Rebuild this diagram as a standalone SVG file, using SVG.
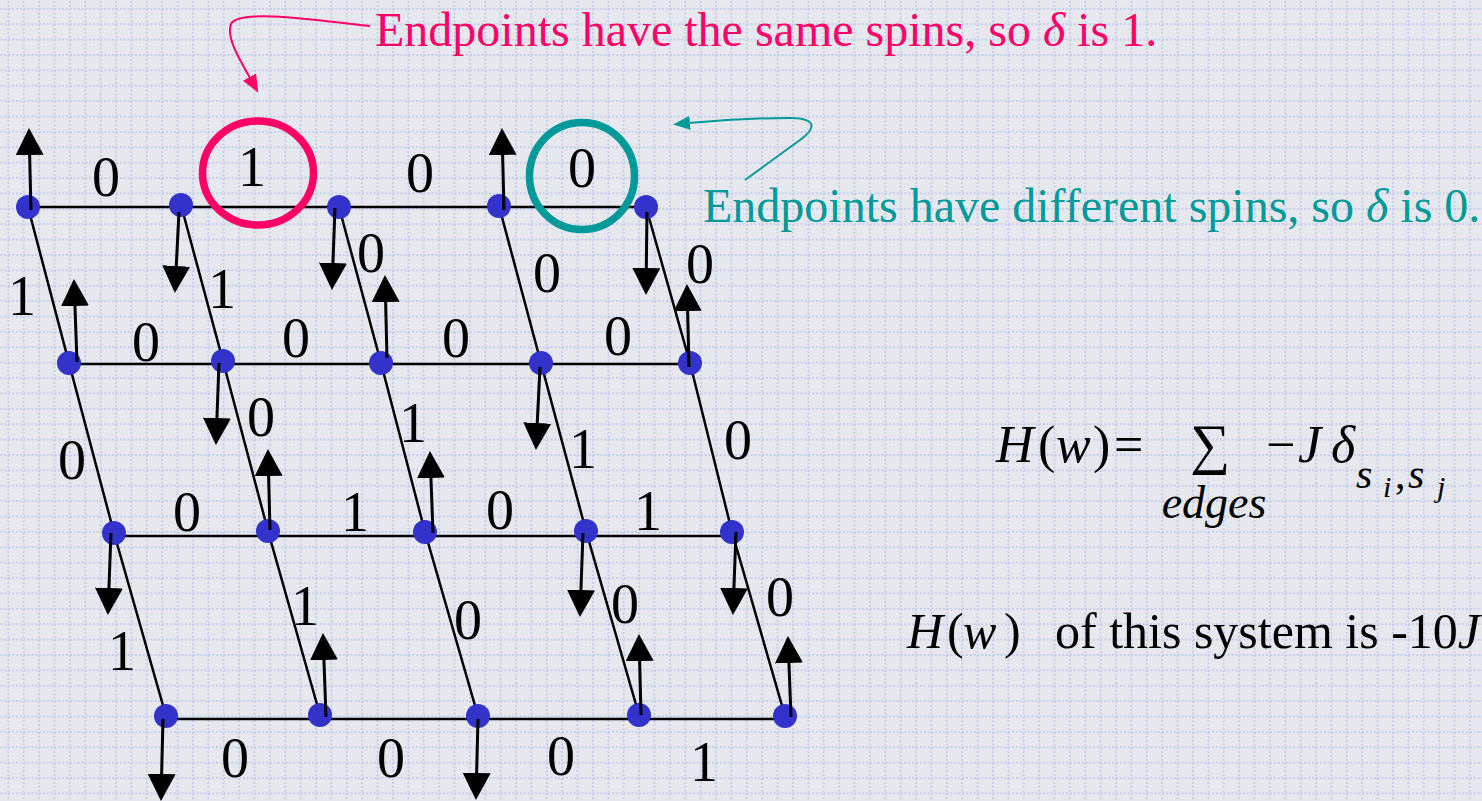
<svg xmlns="http://www.w3.org/2000/svg" width="1482" height="801" viewBox="0 0 1482 801">
<style>
.bg{fill:#e7e8ee}
.gl{stroke:#c2cdeb;stroke-width:1.8;stroke-dasharray:2 1.846}
.edge{stroke:#000;stroke-width:2.5;fill:none}
.node{fill:#3333cc}
.spin{stroke:#000;stroke-width:3;fill:none;marker-end:url(#head)}
.lbl{font-family:"Liberation Serif","Times New Roman",serif;font-size:56px;fill:#000;text-anchor:middle}
.txt{font-family:"Liberation Serif","Times New Roman",serif;fill:#000}
.it{font-style:italic}
.pink{fill:#ff0066}
.teal{fill:#009999}
</style>
<defs>
<pattern id="grid" patternUnits="userSpaceOnUse" x="0.6" y="1.1" width="15.385" height="15.385">
<line class="gl" x1="7.69" y1="0" x2="7.69" y2="15.385"/>
<line class="gl" x1="0" y1="7.69" x2="15.385" y2="7.69"/>
</pattern>
<marker id="head" markerUnits="userSpaceOnUse" viewBox="0 0 27 28" refX="1" refY="14" markerWidth="27" markerHeight="28" orient="auto">
<path d="M0,0 L27,14 L0,28 Z" fill="#000"/>
</marker>
<marker id="pinkHead" markerUnits="userSpaceOnUse" viewBox="0 0 18 15" refX="1" refY="7.5" markerWidth="18" markerHeight="15" orient="auto">
<path d="M0,0 L18,7.5 L0,15 Z" fill="#ff0066"/>
</marker>
<marker id="tealHead" markerUnits="userSpaceOnUse" viewBox="0 0 17 14" refX="1" refY="7" markerWidth="17" markerHeight="14" orient="auto">
<path d="M0,0 L17,7 L0,14 Z" fill="#009999"/>
</marker>
</defs>
<rect class="bg" x="0" y="0" width="1482" height="801"/>
<rect x="0" y="0" width="1482" height="801" fill="url(#grid)"/>

<g id="connectors">
<g id="lattice">
<line class="edge" x1="28" y1="207" x2="646" y2="207"/>
<line class="edge" x1="69" y1="364" x2="690" y2="364"/>
<line class="edge" x1="114" y1="536" x2="733" y2="536"/>
<line class="edge" x1="166" y1="719" x2="785" y2="719"/>
<polyline class="edge" points="28,207 69,363 114,533 166,716"/>
<polyline class="edge" points="181,205 223,361 268,531 320,715"/>
<polyline class="edge" points="339,207 381,363 425,532 478,716"/>
<polyline class="edge" points="499,206 541,363 586,531 639,715"/>
<polyline class="edge" points="646,207 690,363 732,532 785,716"/>
</g>
</g>

<g id="nodes">
<g id="n11"><circle class="node" cx="28" cy="207" r="12"/></g>
<g id="n12"><circle class="node" cx="181" cy="205" r="12"/></g>
<g id="n13"><circle class="node" cx="339" cy="207" r="12"/></g>
<g id="n14"><circle class="node" cx="499" cy="206" r="12"/></g>
<g id="n15"><circle class="node" cx="646" cy="207" r="12"/></g>
<g id="n21"><circle class="node" cx="69" cy="363" r="12"/></g>
<g id="n22"><circle class="node" cx="223" cy="361" r="12"/></g>
<g id="n23"><circle class="node" cx="381" cy="363" r="12"/></g>
<g id="n24"><circle class="node" cx="541" cy="363" r="12"/></g>
<g id="n25"><circle class="node" cx="690" cy="363" r="12"/></g>
<g id="n31"><circle class="node" cx="114" cy="533" r="12"/></g>
<g id="n32"><circle class="node" cx="268" cy="531" r="12"/></g>
<g id="n33"><circle class="node" cx="425" cy="532" r="12"/></g>
<g id="n34"><circle class="node" cx="586" cy="531" r="12"/></g>
<g id="n35"><circle class="node" cx="732" cy="532" r="12"/></g>
<g id="n41"><circle class="node" cx="166" cy="716" r="12"/></g>
<g id="n42"><circle class="node" cx="320" cy="715" r="12"/></g>
<g id="n43"><circle class="node" cx="478" cy="716" r="12"/></g>
<g id="n44"><circle class="node" cx="639" cy="715" r="12"/></g>
<g id="n45"><circle class="node" cx="785" cy="716" r="12"/></g>
</g>

<g id="spins">
<line class="spin" x1="31" y1="210" x2="29.6" y2="154"/>
<line class="spin" x1="179" y1="212" x2="176.2" y2="267"/>
<line class="spin" x1="335" y1="208" x2="332.9" y2="264"/>
<line class="spin" x1="504" y1="210" x2="502.6" y2="154"/>
<line class="spin" x1="647" y1="212" x2="646.3" y2="269"/>
<line class="spin" x1="77" y1="362" x2="74.9" y2="305"/>
<line class="spin" x1="219" y1="363" x2="216.9" y2="419"/>
<line class="spin" x1="387" y1="358" x2="385.6" y2="301"/>
<line class="spin" x1="540" y1="367" x2="537.2" y2="424"/>
<line class="spin" x1="689" y1="367" x2="687.6" y2="310"/>
<line class="spin" x1="111" y1="533" x2="108.9" y2="589"/>
<line class="spin" x1="270" y1="530" x2="268.6" y2="475"/>
<line class="spin" x1="433" y1="533" x2="430.9" y2="477"/>
<line class="spin" x1="583" y1="533" x2="580.9" y2="591"/>
<line class="spin" x1="736" y1="532" x2="733.9" y2="589"/>
<line class="spin" x1="163" y1="719" x2="161.6" y2="775"/>
<line class="spin" x1="326" y1="717" x2="323.9" y2="659"/>
<line class="spin" x1="478" y1="719" x2="476.6" y2="774"/>
<line class="spin" x1="641" y1="715" x2="639.6" y2="660"/>
<line class="spin" x1="791" y1="717" x2="788.9" y2="662"/>
</g>

<g id="highlight-same">
<ellipse cx="258" cy="173" rx="55.5" ry="52" fill="none" stroke="#ff0066" stroke-width="7.5"/>
</g>
<g id="highlight-diff">
<ellipse cx="582" cy="176" rx="52.5" ry="53.5" fill="none" stroke="#009999" stroke-width="7.5"/>
</g>

<g id="edge-labels">
<text class="lbl" x="106" y="196">0</text>
<text class="lbl" x="252" y="186">1</text>
<text class="lbl" x="420" y="192">0</text>
<text class="lbl" x="582" y="187">0</text>
<text class="lbl" x="22" y="315">1</text>
<text class="lbl" x="222" y="308">1</text>
<text class="lbl" x="371" y="272">0</text>
<text class="lbl" x="547" y="292">0</text>
<text class="lbl" x="700" y="283">0</text>
<text class="lbl" x="146" y="361">0</text>
<text class="lbl" x="296" y="357">0</text>
<text class="lbl" x="456" y="357">0</text>
<text class="lbl" x="618" y="355">0</text>
<text class="lbl" x="72" y="479">0</text>
<text class="lbl" x="261" y="436">0</text>
<text class="lbl" x="413" y="442">1</text>
<text class="lbl" x="583" y="468">1</text>
<text class="lbl" x="738" y="459">0</text>
<text class="lbl" x="187" y="531">0</text>
<text class="lbl" x="355" y="531">1</text>
<text class="lbl" x="500" y="529">0</text>
<text class="lbl" x="648" y="530">1</text>
<text class="lbl" x="122" y="670">1</text>
<text class="lbl" x="305" y="625">1</text>
<text class="lbl" x="468" y="639">0</text>
<text class="lbl" x="625" y="623">0</text>
<text class="lbl" x="780" y="616">0</text>
<text class="lbl" x="235" y="777">0</text>
<text class="lbl" x="391" y="777">0</text>
<text class="lbl" x="561" y="775">0</text>
<text class="lbl" x="704" y="781">1</text>
</g>

<g id="callout-same">
<path d="M370,26 C300,18 238,10 231,24 C226,38 240,60 250,78" fill="none" stroke="#ff0066" stroke-width="2" marker-end="url(#pinkHead)"/>
<text class="txt pink" x="375" y="46" font-size="48">Endpoints have the same spins, so <tspan class="it">δ</tspan> is 1.</text>
</g>
<g id="callout-diff">
<path d="M745,180 L800,140 C818,127 815,118 790,118 C760,118 720,120 689,123" fill="none" stroke="#009999" stroke-width="2" marker-end="url(#tealHead)"/>
<text class="txt teal" x="703" y="222" font-size="48">Endpoints have different spins, so <tspan class="it">δ</tspan> is 0.</text>
</g>

<g id="formula">
<text class="txt" y="462" font-size="52"><tspan class="it" x="996">H</tspan><tspan x="1038">(</tspan><tspan class="it" x="1056">w</tspan><tspan x="1093">)</tspan><tspan x="1114">=</tspan></text>
<text class="txt" x="1210" y="463" font-size="56" text-anchor="middle">∑</text>
<text class="txt" y="462" font-size="52"><tspan x="1266">−</tspan><tspan class="it" x="1298">J</tspan><tspan class="it" x="1331">δ</tspan></text>
<text class="txt it" y="488" font-size="42"><tspan x="1356">s</tspan></text>
<text class="txt it" y="497" font-size="30"><tspan x="1383">i</tspan></text>
<text class="txt" y="488" font-size="42"><tspan x="1395">,</tspan></text>
<text class="txt it" y="488" font-size="42"><tspan x="1408">s</tspan></text>
<text class="txt it" y="497" font-size="30"><tspan x="1437">j</tspan></text>
<text class="txt it" x="1214" y="518" font-size="46" text-anchor="middle">edges</text>
</g>

<g id="result">
<text class="txt" y="648" font-size="50"><tspan class="it" x="907">H</tspan><tspan x="947">(</tspan><tspan class="it" x="963">w</tspan><tspan x="1004">)</tspan><tspan x="1055">of this system is -10</tspan><tspan class="it">J</tspan></text>
</g>
</svg>
